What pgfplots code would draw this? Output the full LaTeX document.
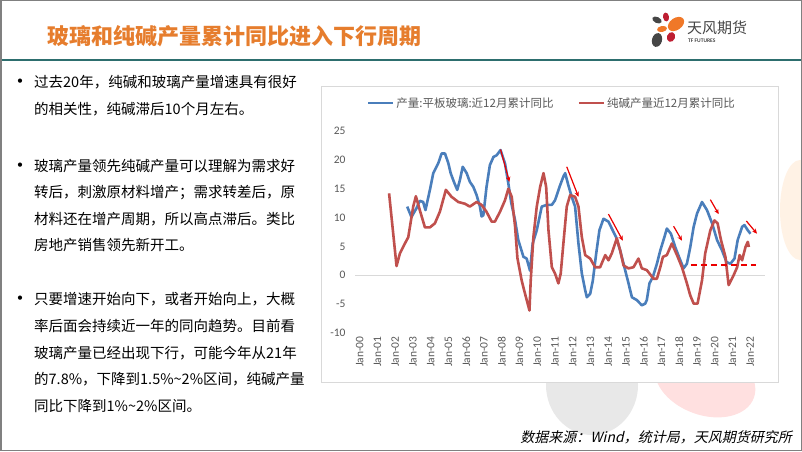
\documentclass[border=0pt]{standalone}
\usepackage{pgfplots}
\pgfplotsset{compat=1.18}
\usetikzlibrary{arrows.meta}
\usepackage{fontspec}
\setmainfont{Carlito}
\newfontfamily\cjk{Noto Sans CJK SC}
\newfontfamily\cjkit{Noto Sans CJK SC}[FakeSlant=0.22]
\definecolor{blueL}{RGB}{74,126,187}
\definecolor{redL}{RGB}{192,80,77}
\definecolor{titleO}{RGB}{230,125,45}
\definecolor{tealL}{RGB}{45,110,110}
\definecolor{axgray}{RGB}{89,89,89}
\definecolor{boxgray}{RGB}{217,217,217}
\definecolor{arrowR}{RGB}{235,0,0}
\definecolor{logoG}{RGB}{70,70,70}
\definecolor{logoO}{RGB}{240,120,40}
\definecolor{logoR}{RGB}{190,30,50}
\begin{document}
\begin{tikzpicture}
\path[use as bounding box] (0,0) rectangle (802pt,451pt);
% background
\fill[white] (0,0) rectangle (802pt,451pt);
% watermark shapes
\fill[gray!18] (592pt,66pt) ellipse [x radius=46pt, y radius=50pt];
\fill[red!12] (705pt,71pt) ellipse [x radius=52pt, y radius=35pt, rotate=-20];
\fill[orange!10] (800pt,241pt) ellipse [x radius=20pt, y radius=50pt];
% header
\node[anchor=west, text=titleO, font=\cjk\bfseries\fontsize{22}{26}\selectfont] at (44pt,415pt) {玻璃和纯碱产量累计同比进入下行周期};
\draw[tealL, line width=2pt] (0,391pt) -- (802pt,391pt);
% logo
\fill[logoG] (657pt,431pt) ellipse [x radius=5pt, y radius=3pt, rotate=-25];
\fill[logoR] (666pt,434pt) ellipse [x radius=3pt, y radius=4.5pt, rotate=10];
\fill[logoO] (676pt,427pt) ellipse [x radius=9pt, y radius=6pt, rotate=35];
\fill[logoO] (662pt,422pt) ellipse [x radius=5pt, y radius=3pt, rotate=10];
\fill[logoR] (671pt,414pt) ellipse [x radius=4pt, y radius=5pt, rotate=-20];
\fill[logoG] (657pt,411pt) ellipse [x radius=5pt, y radius=7pt, rotate=-15];
\node[anchor=west, text=logoG, font=\cjk\fontsize{15}{16}\selectfont, inner sep=0pt] at (687pt,423pt) {天风期货};
\node[anchor=west, text=logoG, font=\bfseries\fontsize{5.5}{6}\selectfont, inner sep=0pt] at (688pt,410pt) {TF FUTURES};
% left text
\begin{scope}[every node/.style={anchor=west, inner sep=0pt, font=\cjk\fontsize{14.5}{16}\selectfont}]
\node at (34pt,369pt) {过去20年，纯碱和玻璃产量增速具有很好};
\node at (34pt,342pt) {的相关性，纯碱滞后10个月左右。};
\node at (34pt,285pt) {玻璃产量领先纯碱产量可以理解为需求好};
\node at (34pt,258pt) {转后，刺激原材料增产；需求转差后，原};
\node at (34pt,232pt) {材料还在增产周期，所以高点滞后。类比};
\node at (34pt,206pt) {房地产销售领先新开工。};
\node at (34pt,152pt) {只要增速开始向下，或者开始向上，大概};
\node at (34pt,125pt) {率后面会持续近一年的同向趋势。目前看};
\node at (34pt,98pt) {玻璃产量已经出现下行，可能今年从21年};
\node at (34pt,72pt) {的7.8\%，下降到1.5\%\textasciitilde2\%区间，纯碱产量};
\node at (34pt,45pt) {同比下降到1\%\textasciitilde2\%区间。};
\end{scope}
\foreach \yy in {369,285,152} {\node[anchor=west, inner sep=0pt, font=\fontsize{12}{14}\selectfont] at (17pt,\yy pt) {•};}
% chart box
\draw[boxgray, fill=white, line width=0.8pt] (321pt,69pt) rectangle (778pt,365pt);
\begin{axis}[
  at={(355pt,118pt)}, anchor=south west,
  scale only axis, width=410pt, height=202pt,
  xmin=1999.9, xmax=2023.0, ymin=-10, ymax=25,
  clip=false,
  axis line style={draw=none}, tick style={draw=none},
  ytick={-10,-5,0,5,10,15,20,25},
  xtick={2000,2001,2002,2003,2004,2005,2006,2007,2008,2009,2010,2011,2012,2013,2014,2015,2016,2017,2018,2019,2020,2021,2022},
  xticklabels={Jan-00,Jan-01,Jan-02,Jan-03,Jan-04,Jan-05,Jan-06,Jan-07,Jan-08,Jan-09,Jan-10,Jan-11,Jan-12,Jan-13,Jan-14,Jan-15,Jan-16,Jan-17,Jan-18,Jan-19,Jan-20,Jan-21,Jan-22},
  /pgf/number format/assume math mode=true,
  yticklabel style={font=\fontsize{11.5}{13}\selectfont, text=axgray, xshift=-6pt},
  xticklabel style={font=\fontsize{11.5}{13}\selectfont, text=axgray, rotate=90, anchor=east, yshift=-3pt},
  legend style={at={(0.48,1.139)}, anchor=center, draw=none, fill=none, text=axgray,
    font=\cjk\fontsize{11.5}{13}\selectfont, legend columns=2,
    /tikz/every even column/.append style={column sep=22pt}},
  legend image code/.code={\draw[#1] (0pt,0pt) -- (25pt,0pt);},
]
\addplot[boxgray, line width=0.8pt, forget plot] coordinates {(1999.9,0) (2023.0,0)};
\addplot[blueL, line width=2.6pt, line join=round] coordinates {
(2002.84,11.9)(2003.08,10.1)(2003.36,11.6)(2003.55,12.9)(2003.74,12.7)(2003.87,11.3)(2004.12,14.8)(2004.31,17.7)(2004.59,19.4)(2004.78,21.1)(2004.97,21.1)(2005.16,19.4)(2005.29,17.7)(2005.47,16.2)(2005.66,14.8)(2005.81,16.5)(2005.97,18.8)(2006.19,17.7)(2006.37,16.2)(2006.57,15.3)(2006.75,13.9)(2006.94,11.9)(2007.03,10.2)(2007.13,10.4)(2007.31,15.3)(2007.5,19.1)(2007.7,20.5)(2007.88,20.8)(2008.1,21.7)(2008.35,19.4)(2008.54,15.9)(2008.7,12.6)(2008.92,9.5)(2009.1,6.1)(2009.39,3.2)(2009.57,2.9)(2009.76,0.8)(2009.91,5.5)(2010.14,7.8)(2010.42,11.9)(2010.7,12.2)(2010.99,12.2)(2011.17,13.0)(2011.42,15.3)(2011.64,17.1)(2011.74,17.7)(2011.92,15.6)(2012.11,13.6)(2012.3,11.9)(2012.49,5.5)(2012.68,0.3)(2012.87,-2.6)(2012.96,-3.8)(2013.15,-3.2)(2013.3,-0.9)(2013.49,3.8)(2013.67,7.8)(2013.9,9.8)(2014.18,9.3)(2014.37,8.1)(2014.61,6.6)(2014.84,4.3)(2015.12,0.9)(2015.31,-1.4)(2015.5,-3.8)(2015.78,-4.3)(2016.06,-5.2)(2016.25,-4.9)(2016.34,-4.3)(2016.49,-1.4)(2016.68,-0.3)(2016.91,2.0)(2017.1,4.3)(2017.33,6.6)(2017.47,8.1)(2017.7,7.2)(2017.94,4.9)(2018.19,2.9)(2018.41,1.2)(2018.6,2.0)(2018.79,4.9)(2018.98,8.4)(2019.17,10.7)(2019.45,12.7)(2019.73,11.3)(2020.02,9.0)(2020.3,6.1)(2020.58,4.3)(2020.83,2.3)(2021.05,2.0)(2021.28,2.9)(2021.46,6.1)(2021.71,8.4)(2021.84,8.7)(2022.03,7.8)(2022.18,7.2)
};
\addlegendentry{产量:平板玻璃:近12月累计同比}
\addplot[redL, line width=2.6pt, line join=round] coordinates {
(2001.82,14.2)(2002.24,1.6)(2002.43,3.8)(2002.71,5.5)(2002.9,6.6)(2003.18,11.9)(2003.33,13.7)(2003.55,11.3)(2003.84,8.3)(2004.12,8.3)(2004.4,9.0)(2004.68,11.0)(2005.02,14.8)(2005.34,13.6)(2005.72,12.7)(2006.09,12.4)(2006.37,11.9)(2006.75,12.7)(2007.03,12.2)(2007.31,11.0)(2007.6,9.3)(2007.78,9.3)(2008.07,11.0)(2008.35,13.0)(2008.54,15.0)(2008.73,13.6)(2008.92,8.4)(2009.05,3.0)(2009.29,-0.9)(2009.48,-3.2)(2009.73,-6.1)(2009.8,-0.9)(2009.95,6.6)(2010.14,11.9)(2010.33,15.3)(2010.52,17.7)(2010.67,15.3)(2010.8,7.8)(2010.99,1.4)(2011.17,0.3)(2011.36,-1.4)(2011.49,0.3)(2011.64,5.5)(2011.83,11.9)(2012.02,13.9)(2012.3,13.6)(2012.49,11.9)(2012.68,6.6)(2012.87,3.5)(2013.15,2.9)(2013.43,1.4)(2013.71,1.4)(2014.0,3.5)(2014.18,2.6)(2014.37,3.8)(2014.65,6.4)(2014.84,4.3)(2015.03,1.7)(2015.31,1.2)(2015.59,1.4)(2015.87,2.9)(2016.06,1.2)(2016.34,0.9)(2016.72,-0.6)(2016.91,-0.6)(2017.1,1.4)(2017.25,3.2)(2017.47,3.5)(2017.75,5.5)(2018.04,3.5)(2018.32,1.4)(2018.6,-1.4)(2018.79,-3.5)(2018.98,-4.9)(2019.2,-4.9)(2019.45,-0.9)(2019.63,3.8)(2019.92,7.8)(2020.15,9.5)(2020.33,9.0)(2020.52,6.1)(2020.77,3.2)(2020.95,-1.7)(2021.23,0)(2021.43,1.4)(2021.57,3.5)(2021.71,2.6)(2021.9,4.9)(2022.03,5.8)(2022.09,4.9)
};
\addlegendentry{纯碱产量近12月累计同比}
% annotations
\begin{scope}[arrowR, line width=1.2pt, -{Stealth[length=5pt,width=4.5pt]}]
\draw (axis cs:2008.1,21.8) -- (axis cs:2008.6,16.2);
\draw (axis cs:2011.83,18.8) -- (axis cs:2012.49,13.6);
\draw (axis cs:2014.18,10.6) -- (axis cs:2014.99,6.0);
\draw (axis cs:2017.85,8.5) -- (axis cs:2018.32,6.0);
\draw (axis cs:2019.92,13.1) -- (axis cs:2020.39,10.6);
\draw (axis cs:2021.95,9.4) -- (axis cs:2022.55,7.2);
\end{scope}
\draw[arrowR, line width=1.6pt, dash pattern=on 6pt off 4pt] (axis cs:2018.82,1.8) -- (axis cs:2022.5,1.8);
\end{axis}
% source
\node[anchor=east, inner sep=0pt, font=\cjkit\fontsize{14}{16}\selectfont] at (792pt,14pt) {数据来源：Wind，统计局，天风期货研究所};
% slide border
\draw[gray, line width=1.5pt] (0.75pt,0.75pt) rectangle (801.25pt,450.25pt);
\end{tikzpicture}
\end{document}
